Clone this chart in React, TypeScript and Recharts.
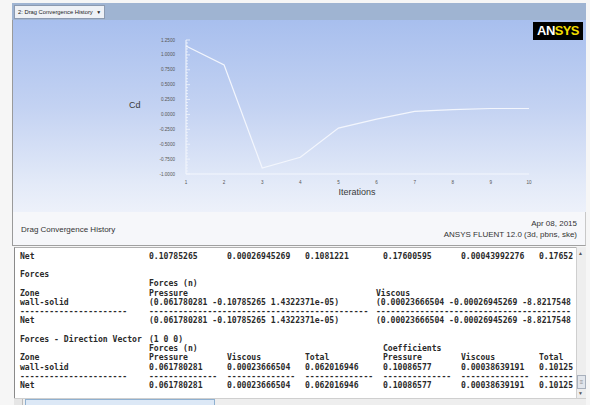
import React from "react";
import { LineChart, Line, XAxis, YAxis } from "recharts";

// drag coefficient per iteration
const iterations = [1, 2, 3, 4, 5, 6, 7, 8, 9, 10];
const cdValues = [1.15, 0.83, -0.9, -0.72, -0.23, -0.08, 0.05, 0.08, 0.1, 0.1];
const yMajorTicks = [-1, -0.75, -0.5, -0.25, 0, 0.25, 0.5, 0.75, 1, 1.25];
const xTicks = [1, 2, 3, 4, 5, 6, 7, 8, 9, 10];

const data = iterations.map((it, i) => ({ iter: it, cd: cdValues[i] }));

// minor ticks every 0.05 between the labelled ones
const yTicks: number[] = [];
for (let k = -20; k <= 25; k++) yTicks.push(k / 20);

// console report rows: [x, text] cells per line (right edge is clipped by the pane)
const C0 = 19;
const C = [148, 226, 304, 382, 460, 538];
const V2 = 375;
const dash = (n: number) => "-".repeat(n);
const vecP = "(0.061780281 -0.10785265 1.4322371e-05)";
const vecV = "(0.00023666504 -0.00026945269 -8.8217548";
const rowCells: [number, string][][] = [
  [[C0, "Net"], [C[0], "0.10785265"], [C[1], "0.00026945269"], [C[2], "0.1081221"], [C[3], "0.17600595"], [C[4], "0.00043992276"], [C[5], "0.17652"]],
  [],
  [[C0, "Forces"]],
  [[C[0], "Forces (n)"]],
  [[C0, "Zone"], [C[0], "Pressure"], [V2, "Viscous"]],
  [[C0, "wall-solid"], [C[0], vecP], [V2, vecV]],
  [[C0, dash(22)], [C[0], dash(45)], [V2, dash(40)]],
  [[C0, "Net"], [C[0], vecP], [V2, vecV]],
  [],
  [[C0, "Forces - Direction Vector"], [C[0], "(1 0 0)"]],
  [[C[0], "Forces (n)"], [C[3], "Coefficients"]],
  [[C0, "Zone"], [C[0], "Pressure"], [C[1], "Viscous"], [C[2], "Total"], [C[3], "Pressure"], [C[4], "Viscous"], [C[5], "Total"]],
  [[C0, "wall-solid"], [C[0], "0.061780281"], [C[1], "0.00023666504"], [C[2], "0.062016946"], [C[3], "0.10086577"], [C[4], "0.00038639191"], [C[5], "0.10125"]],
  [[C0, dash(22)], [C[0], dash(14)], [C[1], dash(14)], [C[2], dash(14)], [C[3], dash(14)], [C[4], dash(14)], [C[5], dash(7)]],
  [[C0, "Net"], [C[0], "0.061780281"], [C[1], "0.00023666504"], [C[2], "0.062016946"], [C[3], "0.10086577"], [C[4], "0.00038639191"], [C[5], "0.10125"]],
];

const sans = "'Liberation Sans', Arial, sans-serif";
const mono = "'DejaVu Sans Mono', monospace";

const YTick = (props: any) => {
  const { x, y, payload } = props;
  const v = payload.value;
  const major = yMajorTicks.some((m) => Math.abs(m - v) < 1e-9);
  return (
    <g>
      <line x1={x} x2={x + (major ? 4 : 2)} y1={y} y2={y} stroke="#f3f6fd" strokeWidth={0.8} />
      {major && (
        <text x={x - 11} y={y} dy={1.6} textAnchor="end" fontSize={4.6} fill="#555" fontFamily={sans}>
          {v.toFixed(4)}
        </text>
      )}
    </g>
  );
};

const XTick = (props: any) => {
  const { x, y, payload } = props;
  return (
    <text x={x} y={y + 9.5} textAnchor="middle" fontSize={4.6} fill="#555" fontFamily={sans}>
      {payload.value}
    </text>
  );
};

export default function App() {
  return (
    <div style={{ position: "absolute", left: 0, top: 0, width: 590, height: 405, overflow: "hidden", background: "#f6f6f6", fontFamily: sans }}>
      {/* tab bar */}
      <div style={{ position: "absolute", left: 12, top: 3, width: 574, height: 17, background: "#9fb4d2" }} />
      <div style={{ position: "absolute", left: 14, top: 5, width: 86, height: 12, background: "#eef1f6", border: "1px solid #8c9ab0", fontSize: 5.8, lineHeight: "12px", color: "#222", paddingLeft: 3, boxSizing: "content-box", whiteSpace: "nowrap" }}>
        2: Drag Convergence History <span style={{ fontSize: 5, marginLeft: 2 }}>▼</span>
      </div>

      {/* graphics window */}
      <div style={{ position: "absolute", left: 12, top: 20, width: 574, height: 192, background: "linear-gradient(#a8bfee 0%, #c3d2f2 45%, #e3eaf8 85%, #edf1fa 100%)", borderLeft: "1px solid #9a9a9a", boxSizing: "border-box" }} />
      <div style={{ position: "absolute", left: 12, top: 212, width: 574, height: 34, background: "#f6f7fa", borderLeft: "1px solid #9a9a9a", borderBottom: "1px solid #a0a0a0", borderRight: "1px solid #c8c8c8", boxSizing: "border-box" }} />

      <div style={{ position: "absolute", left: 12, top: 20 }}>
        <LineChart width={574} height={192} data={data} margin={{ top: 20, right: 57, bottom: 0, left: 0 }}>
          <XAxis
            dataKey="iter"
            type="number"
            domain={[1, 10]}
            ticks={xTicks}
            interval={0}
            height={38}
            tickSize={0}
            tickMargin={0}
            tickLine={false}
            axisLine={{ stroke: "#f3f6fd", strokeWidth: 1 }}
            tick={<XTick />}
          />
          <YAxis
            type="number"
            domain={[-1, 1.25]}
            ticks={yTicks}
            interval={0}
            width={174}
            tickSize={0}
            tickMargin={0}
            tickLine={false}
            axisLine={{ stroke: "#f3f6fd", strokeWidth: 1 }}
            tick={<YTick />}
          />
          <Line type="linear" dataKey="cd" stroke="#f3f6fd" strokeWidth={1.2} dot={false} isAnimationActive={false} />
        </LineChart>
      </div>

      <div style={{ position: "absolute", left: 129, top: 100, fontSize: 9, color: "#3a3a3a" }}>Cd</div>
      <div style={{ position: "absolute", left: 307, width: 100, textAlign: "center", top: 187, fontSize: 9, color: "#3a3a3a" }}>Iterations</div>

      {/* logo */}
      <div style={{ position: "absolute", left: 533, top: 22, width: 50, height: 18, background: "#000", fontWeight: "bold", fontSize: 13, lineHeight: "18px", textAlign: "center", letterSpacing: -0.6 }}>
        <span style={{ color: "#fff" }}>AN</span>
        <span style={{ color: "#f2dc00" }}>SYS</span>
      </div>

      {/* footer of graphics window */}
      <div style={{ position: "absolute", left: 21, top: 225, fontSize: 8, color: "#333" }}>Drag Convergence History</div>
      <div style={{ position: "absolute", right: 13, top: 219, fontSize: 8, color: "#333", textAlign: "right", lineHeight: "10.5px" }}>
        Apr 08, 2015
        <br />
        ANSYS FLUENT 12.0 (3d, pbns, ske)
      </div>

      {/* console */}
      <div style={{ position: "absolute", left: 14, top: 247, width: 562, height: 151, background: "#fff", borderLeft: "1px solid #8a8a8a", borderTop: "1px solid #b0b0b0", boxSizing: "border-box", overflow: "hidden" }}>
        {rowCells.map((cells, r) =>
          cells.map(([x, t], i) => (
            <div
              key={r + "-" + i}
              style={{ position: "absolute", left: x - 14, top: 3.5 + r * 9.25, fontFamily: mono, fontWeight: "bold", fontSize: 8.1, lineHeight: "9px", color: "#2a2a2a", whiteSpace: "pre" }}
            >
              {t}
            </div>
          ))
        )}
      </div>

      {/* vertical scrollbar */}
      <div style={{ position: "absolute", left: 576, top: 247, width: 10, height: 151, background: "#eeeeee", borderLeft: "1px solid #cfcfcf", boxSizing: "border-box" }}>
        <div style={{ position: "absolute", left: 1, top: 3, fontSize: 5, color: "#555" }}>▲</div>
        <div style={{ position: "absolute", left: 0, top: 128, width: 9, height: 14, background: "#e2e6ec", border: "1px solid #a8b0bc", boxSizing: "border-box", fontSize: 6, lineHeight: "12px", textAlign: "center", color: "#888" }}>≡</div>
        <div style={{ position: "absolute", left: 1, top: 143, fontSize: 5, color: "#555" }}>▼</div>
      </div>

      {/* horizontal scrollbar */}
      <div style={{ position: "absolute", left: 14, top: 398, width: 572, height: 7, background: "#eeeeee", borderTop: "1px solid #cfcfcf", boxSizing: "border-box" }}>
        <div style={{ position: "absolute", left: 0, top: 0, width: 9, height: 7, background: "#e6e6e6", borderRight: "1px solid #bbb", boxSizing: "border-box" }} />
        <div style={{ position: "absolute", left: 11, top: 0, width: 190, height: 7, background: "#dce8f6", border: "1px solid #8fb0d0", boxSizing: "border-box" }} />
      </div>
    </div>
  );
}
